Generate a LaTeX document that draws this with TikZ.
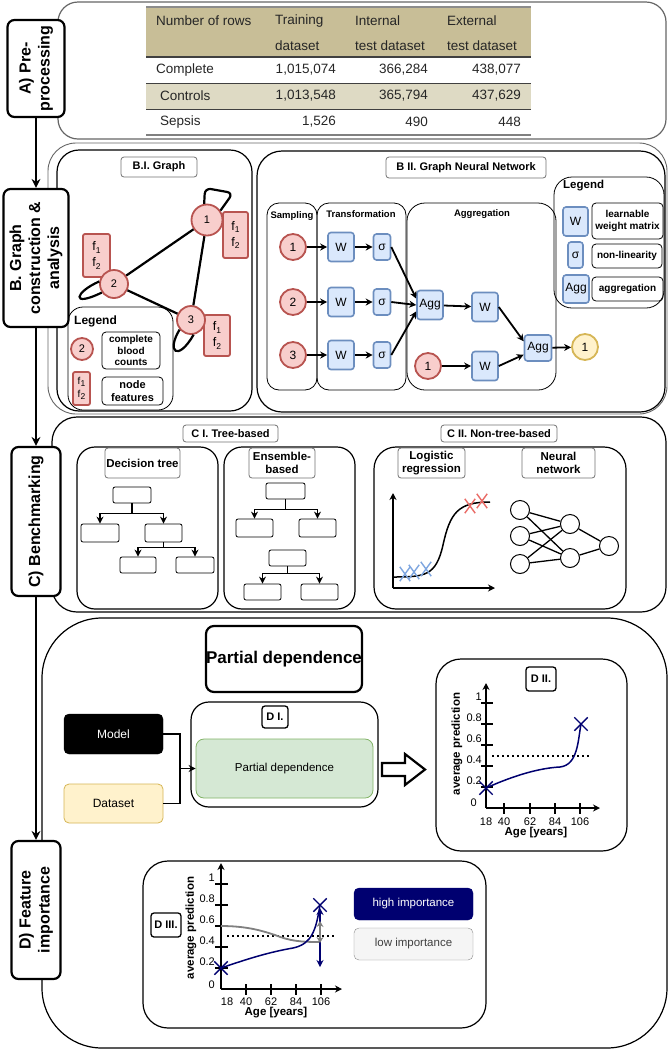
\documentclass[tikz,border=0pt]{standalone}
\usepackage{fontspec}
\setmainfont{Liberation Sans}
\usetikzlibrary{arrows.meta,shapes.misc,fit}
\definecolor{pinkF}{HTML}{F8CECC}
\definecolor{pinkD}{HTML}{B85450}
\definecolor{blueF}{HTML}{DAE8FC}
\definecolor{blueD}{HTML}{6C8EBF}
\definecolor{yelF}{HTML}{FFF2CC}
\definecolor{yelD}{HTML}{D6B656}
\definecolor{greF}{HTML}{D5E8D4}
\definecolor{greD}{HTML}{82B366}
\definecolor{navyc}{HTML}{000070}
\definecolor{tanH}{HTML}{C8BE97}
\definecolor{tanL}{HTML}{DEDAC4}
\definecolor{lblue}{HTML}{7EA6E0}
\definecolor{lred}{HTML}{EA6B66}
\newcommand\fsz[2]{\fontsize{#1}{#2}\selectfont}
\newcommand\fsub[1]{f\raisebox{-0.4ex}{\fsz{8.5}{9}#1}}
\begin{document}
\begin{tikzpicture}[x=1pt,y=-1pt,
  lab/.style={draw, line width=2.2pt, rounded corners=7pt, fill=white, rotate=90, align=center, font=\bfseries\fsz{16}{19}, inner sep=0pt},
  cont/.style={draw, line width=1.2pt, inner sep=0pt},
  ttl/.style={draw=black!55, line width=0.8pt, rounded corners=3pt, fill=white, font=\bfseries\fsz{11}{13}, inner sep=0pt, align=center},
  subl/.style={draw=black!55, line width=0.8pt, rounded corners=3pt, fill=white, font=\bfseries\fsz{11.5}{13}, inner sep=0pt, align=center},
  mini/.style={draw, line width=1.3pt, rounded corners=3pt, fill=white, font=\bfseries\fsz{11}{13}, inner sep=0pt},
  tt/.style={font=\fsz{13.5}{16}, inner sep=0pt, text=black!85},
  pk/.style={circle, draw=pinkD, fill=pinkF, line width=1.8pt, inner sep=0pt, font=\fsz{11}{13}},
  pkb/.style={draw=pinkD, fill=pinkF, line width=1.8pt, rounded corners=2pt, inner sep=0pt, align=center, font=\fsz{12.5}{16}},
  bl/.style={draw=blueD, fill=blueF, line width=1.6pt, rounded corners=3pt, inner sep=0pt, font=\fsz{12}{14}},
  lgt/.style={draw, line width=0.8pt, rounded corners=4pt, inner sep=0pt, align=center, font=\bfseries\fsz{10}{11.5}},
  lane/.style={draw, line width=0.8pt, rounded corners=12pt, inner sep=0pt},
  lanet/.style={font=\bfseries\fsz{9.5}{11}, inner sep=0pt},
  gl/.style={line width=2.2pt},
  garr/.style={line width=1.8pt, -{Stealth[length=7pt,width=7pt]}},
  sarr/.style={line width=1.8pt, -{Stealth[length=9pt,width=9pt]}},
  tbox/.style={draw, line width=0.8pt, rounded corners=2pt, inner sep=0pt},
  tarr/.style={line width=1.4pt, -{Stealth[length=7pt,width=7pt]}},
  axarr/.style={line width=1.5pt, -{Stealth[length=7pt,width=7pt]}},
  xm/.style={cross out, draw, line width=1.4pt, inner sep=0pt, minimum width=9pt, minimum height=13pt},
  nc/.style={circle, draw, line width=1pt, fill=white, inner sep=0pt, minimum size=19pt},
  tk/.style={line width=1.5pt},
  tl/.style={font=\fsz{11}{13}, inner sep=0pt},
  axl/.style={font=\bfseries\fsz{11.5}{13}, inner sep=0pt},
  dotl/.style={line width=1.5pt, dash pattern=on 1.5pt off 3.5pt},
]
\fill[white] (0,0) rectangle (671,1053);
\useasboundingbox (0,0) rectangle (671,1053);

%% ---------------- A ----------------
\node[cont, draw=black!60, rounded corners=20pt, fit={(58,2)(666,139)}] (abox) {};
\fill[tanH] (146,7) rectangle (531,57);
\fill[tanL] (146,83) rectangle (531,109);
\draw[black!45, line width=1.5pt] (146,7) -- (531,7);
\draw[black!75, line width=2pt] (146,57) -- (531,57);
\draw[black!75, line width=1pt] (146,83) -- (531,83);
\draw[black!75, line width=1pt] (146,109) -- (531,109);
\draw[black!50, line width=2pt] (146,135) -- (531,135);
\node[tt, anchor=west] (h0) at (156,21) {Number of rows};
\node[tt, anchor=west] (h1a) at (275,21) {Training};
\node[tt, anchor=west] (h1b) at (275,46) {dataset};
\node[tt, anchor=west] (h2a) at (355,21) {Internal};
\node[tt, anchor=west] (h2b) at (355,46) {test dataset};
\node[tt, anchor=west] (h3a) at (447,21) {External};
\node[tt, anchor=west] (h3b) at (447,46) {test dataset};
\node[tt, anchor=west] (r1) at (156,70) {Complete};
\node[tt, anchor=east] (r1a) at (336,70) {1,015,074};
\node[tt, anchor=east] (r1b) at (428,70) {366,284};
\node[tt, anchor=east] (r1c) at (521,70) {438,077};
\node[tt, anchor=west] (r2) at (160,96) {Controls};
\node[tt, anchor=east] (r2a) at (336,96) {1,013,548};
\node[tt, anchor=east] (r2b) at (428,96) {365,794};
\node[tt, anchor=east] (r2c) at (521,96) {437,629};
\node[tt, anchor=west] (r3) at (160,122) {Sepsis};
\node[tt, anchor=east] (r3a) at (336,122) {1,526};
\node[tt, anchor=east] (r3b) at (428,122) {490};
\node[tt, anchor=east] (r3c) at (521,122) {448};

%% ---------------- B ----------------
\node[cont, draw=black!60, line width=0.9pt, rounded corners=28pt, fit={(48,143)(667,414)}] (bout) {};
\node[cont, rounded corners=22pt, fit={(57,150)(252,411)}] (bI) {};
\node[cont, rounded corners=25pt, fit={(257,151)(665,412)}] (bII) {};

% B.I graph
\node[ttl, minimum width=76pt, minimum height=20pt] (bIt) at (159,167) {B.I. Graph};
\node[pkb, minimum width=25pt, minimum height=46pt] (f1) at (235.5,235) {\fsub{1}\\\fsub{2}};
\node[pkb, minimum width=27pt, minimum height=43pt] (f2) at (96.5,255.5) {\fsub{1}\\\fsub{2}};
\node[pkb, minimum width=26pt, minimum height=41pt] (f3) at (217,335.5) {\fsub{1}\\\fsub{2}};
\node[pk, minimum size=31pt] (n1) at (207,220) {1};
\node[pk, minimum size=28pt] (n2) at (114,284) {2};
\node[pk, minimum size=28pt] (n3) at (191,320) {3};
\draw[gl] (n1) -- (n2);
\draw[gl] (n2) -- (n3);
\draw[gl] (n1) -- (n3);
\draw[gl, rounded corners=6pt] (n1.100) -- (205,188) -- (233,193) -- (n1.35);
\draw[gl] (n2.170) .. controls (75,292) and (70,308) .. (n2.215);
\draw[gl] (n3.220) .. controls (166,352) and (178,362) .. (n3.280);
% legend B.I
\node[cont, line width=0.8pt, rounded corners=15pt, fit={(68,307)(173,410)}] (bleg) {};
\node[font=\bfseries\fsz{12}{14}, anchor=west, inner sep=0pt] (blegt) at (74,321) {Legend};
\node[pk, minimum size=22pt] (lc) at (82,349) {2};
\node[lgt, minimum width=58pt, minimum height=37pt] (lct) at (131,350.5) {complete\\blood\\counts};
\node[pkb, minimum width=17pt, minimum height=33pt, font=\fsz{10}{13}] (lf) at (81.5,388.5) {\fsub{1}\\\fsub{2}};
\node[lgt, minimum width=61pt, minimum height=28pt, font=\bfseries\fsz{11}{13}] (lft) at (132.5,391) {node\\features};

% B.II GNN
\node[ttl, minimum width=160pt, minimum height=21pt] (bIIt) at (466,167.5) {B II. Graph Neural Network};
\node[lane, fit={(267,203)(317,390)}] (laneS) {};
\node[lane, fit={(317,203)(406,390)}] (laneT) {};
\node[lane, rounded corners=18pt, fit={(407,203)(556,390)}] (laneA) {};
\node[lane, rounded corners=18pt, fit={(554,177)(664,308)}] (laneL) {};
\node[lanet] (lsT) at (292,216) {Sampling};
\node[lanet] (ltT) at (361,214) {Transformation};
\node[lanet] (laT) at (482,214) {Aggregation};
\node[font=\bfseries\fsz{11.5}{13}, anchor=west, inner sep=0pt] (llT) at (563,186) {Legend};

\node[pk, minimum size=26pt, font=\fsz{12}{14}] (s1) at (293,247) {1};
\node[pk, minimum size=26pt, font=\fsz{12}{14}] (s2) at (293,302) {2};
\node[pk, minimum size=26pt, font=\fsz{12}{14}] (s3) at (293,355) {3};
\node[bl, minimum width=26pt, minimum height=29pt] (w1) at (341,247) {W};
\node[bl, minimum width=26pt, minimum height=29pt] (w2) at (341,302) {W};
\node[bl, minimum width=26pt, minimum height=29pt] (w3) at (341,355) {W};
\node[bl, minimum width=17pt, minimum height=26pt] (g1) at (382,247) {σ};
\node[bl, minimum width=17pt, minimum height=26pt] (g2) at (382,302) {σ};
\node[bl, minimum width=17pt, minimum height=26pt] (g3) at (382,355) {σ};
\node[bl, minimum width=26pt, minimum height=29pt] (agg1) at (430,305) {Agg};
\node[bl, minimum width=26pt, minimum height=29pt] (w4) at (485,307) {W};
\node[pk, minimum size=26pt, font=\fsz{12}{14}] (b1) at (428,366) {1};
\node[bl, minimum width=26pt, minimum height=29pt] (w5) at (485,366) {W};
\node[bl, minimum width=27pt, minimum height=26pt] (agg2) at (538,348) {Agg};
\node[circle, draw=yelD, fill=yelF, line width=1.8pt, inner sep=0pt, minimum size=26pt, font=\fsz{12}{14}] (out) at (585,347) {1};
\draw[garr] (s1) -- (w1);
\draw[garr] (s2) -- (w2);
\draw[garr] (s3) -- (w3);
\draw[garr] (w1) -- (g1);
\draw[garr] (w2) -- (g2);
\draw[garr] (w3) -- (g3);
\draw[garr] (g1.east) -- (agg1.155);
\draw[garr] (g2.east) -- (agg1.west);
\draw[garr] (g3.east) -- (agg1.205);
\draw[garr] (agg1) -- (w4);
\draw[garr] (b1) -- (w5);
\draw[garr] (w4.east) -- (agg2.155);
\draw[garr] (w5.east) -- (agg2.205);
\draw[garr] (agg2) -- (out);
% legend B.II
\node[bl, minimum width=25pt, minimum height=29pt] (lw) at (575.5,221.5) {W};
\node[lgt, minimum width=71pt, minimum height=36pt] (lwt) at (627.5,221) {learnable\\weight matrix};
\node[bl, minimum width=15pt, minimum height=26pt] (lsg) at (575.5,255) {σ};
\node[lgt, minimum width=70pt, minimum height=24pt] (lst) at (627,256) {non-linearity};
\node[bl, minimum width=26pt, minimum height=28pt] (lag) at (576,289) {Agg};
\node[lgt, minimum width=71pt, minimum height=24pt] (lat) at (627.5,289) {aggregation};

%% ---------------- C ----------------
\node[cont, rounded corners=25pt, fit={(52,417)(666,612)}] (cbox) {};
\node[ttl, minimum width=95pt, minimum height=17pt] (cIt) at (230.5,433.5) {C I. Tree-based};
\node[ttl, minimum width=116pt, minimum height=17pt] (cIIt) at (499,433.5) {C II. Non-tree-based};
\node[cont, rounded corners=18pt, fit={(77,447)(218,609)}] (cdt) {};
\node[cont, rounded corners=18pt, fit={(224,447)(355,609)}] (cen) {};
\node[cont, rounded corners=22pt, fit={(374,447)(626,609)}] (cnt) {};
\node[subl, minimum width=75pt, minimum height=30pt] (cdtl) at (142.5,463) {Decision tree};
\node[subl, minimum width=66pt, minimum height=30pt] (cenl) at (282,463) {Ensemble-\\based};
\node[subl, minimum width=67pt, minimum height=30pt] (clrl) at (431.5,463) {Logistic\\regression};
\node[subl, minimum width=73pt, minimum height=30pt] (cnnl) at (558.5,463) {Neural\\network};
% decision tree
\node[tbox, minimum width=38pt, minimum height=16pt] (dt0) at (132,495) {};
\node[tbox, minimum width=38pt, minimum height=18pt] (dt1) at (100,533) {};
\node[tbox, minimum width=37pt, minimum height=18pt] (dt2) at (163.5,533) {};
\node[tbox, minimum width=36pt, minimum height=16pt] (dt3) at (138,565) {};
\node[tbox, minimum width=38pt, minimum height=16pt] (dt4) at (195,565) {};
\draw[tarr] (dt0.south) -- ++(0,10) -| (dt1.north);
\draw[tarr] (dt0.south) -- ++(0,10) -| (dt2.north);
\draw[tarr] (dt2.south) -- ++(0,5) -| (dt3.north);
\draw[tarr] (dt2.south) -- ++(0,5) -| (dt4.north);
% ensemble
\node[tbox, minimum width=39pt, minimum height=16pt] (en0) at (285.5,491) {};
\node[tbox, minimum width=37pt, minimum height=18pt] (en1) at (254.5,528) {};
\node[tbox, minimum width=37pt, minimum height=18pt] (en2) at (317.5,528) {};
\node[tbox, minimum width=37pt, minimum height=16pt] (en3) at (287.5,558) {};
\node[tbox, minimum width=37pt, minimum height=16pt] (en4) at (262.5,592) {};
\node[tbox, minimum width=37pt, minimum height=16pt] (en5) at (319.5,592) {};
\draw[tarr] (en0.south) -- ++(0,10) -| (en1.north);
\draw[tarr] (en0.south) -- ++(0,10) -| (en2.north);
\draw[tarr] (en3.south) -- ++(0,7) -| (en4.north);
\draw[tarr] (en3.south) -- ++(0,7) -| (en5.north);
% logistic regression
\coordinate (lro) at (393,588);
\coordinate (lry) at (393,493);
\coordinate (lrx) at (495,588);
\draw[axarr] (lro) -- (lry);
\draw[axarr] (lro) -- (lrx);
\draw[line width=1.5pt] (393,577) .. controls (425,577) and (436,576) .. (443,545) .. controls (450,513) and (458,502) .. (490,502);
\node[xm, draw=lblue] (bx1) at (405,574) {};
\node[xm, draw=lblue] (bx2) at (414,572) {};
\node[xm, draw=lblue] (bx3) at (426,569) {};
\node[xm, draw=lred] (rx1) at (470,506) {};
\node[xm, draw=lred] (rx2) at (482,501) {};
% neural network
\node[nc] (nn1) at (520,510) {};
\node[nc] (nn2) at (520,536) {};
\node[nc] (nn3) at (520,564) {};
\node[nc] (nn4) at (570,524) {};
\node[nc] (nn5) at (570,558) {};
\node[nc] (nn6) at (609,546) {};
\foreach \a in {nn1,nn2,nn3}{\foreach \b in {nn4,nn5}{\draw[line width=1.3pt] (\a) -- (\b);}}
\draw[line width=1.3pt] (nn4) -- (nn6);
\draw[line width=1.3pt] (nn5) -- (nn6);

%% ---------------- D ----------------
\node[cont, rounded corners=60pt, fit={(42,618)(667,1048)}] (dbox) {};
\node[draw, line width=2.2pt, rounded corners=8pt, minimum width=156pt, minimum height=66pt, inner sep=0pt, font=\bfseries\fsz{17}{20}] (pdt) at (284,659) {Partial dependence};
\node[draw, fill=black, rounded corners=5pt, minimum width=99pt, minimum height=40pt, inner sep=0pt, text=white, font=\fsz{12}{14}] (model) at (113.5,734) {Model};
\node[draw=yelD, fill=yelF, rounded corners=5pt, line width=0.8pt, minimum width=99pt, minimum height=39pt, inner sep=0pt, font=\fsz{12}{14}] (dataset) at (113.5,803.5) {Dataset};
\node[cont, rounded corners=18pt, fit={(191,702)(378,807)}] (dI) {};
\node[mini, minimum width=26pt, minimum height=22pt] (dIt) at (275,717) {D I.};
\node[draw=greD, fill=greF, rounded corners=8pt, line width=0.8pt, minimum width=177pt, minimum height=59pt, inner sep=0pt, font=\fsz{11.5}{14}] (green) at (284.5,768.5) {Partial dependence};
\coordinate (jn) at (180,768.5);
\draw[line width=1.5pt] (model.east) -| (jn);
\draw[line width=1.5pt] (dataset.east) -| (jn);
\draw[line width=1.5pt, -{Stealth[length=7pt,width=7pt]}] (jn) -- (green.west);
\draw[line width=2.2pt, line join=miter] (382,763) -- (405,763) -- (405,754) -- (425,769.5) -- (405,785) -- (405,776) -- (382,776) -- cycle;

% D II
\node[cont, rounded corners=25pt, fit={(436,659)(627,851)}] (dII) {};
\node[mini, minimum width=30pt, minimum height=24pt] (dIIt) at (541,679) {D II.};
\coordinate (d2o) at (486,808);
\coordinate (d2t) at (486,683);
\coordinate (d2r) at (600,808);
\draw[axarr] (d2o) -- (d2t);
\draw[axarr] (d2o) -- (d2r);
\foreach \v/\yy [count=\k] in {1/703,0.8/724,0.6/745,0.4/766,0.2/787}{
  \draw[tk] (481,\yy) -- (493,\yy);
  \node[tl, anchor=east] (d2y\k) at (482,\yy-6) {\v};
}
\node[tl, anchor=east] (d2y0) at (477,803) {0};
\foreach \xx in {504,530,555,580} {\draw[tk] (\xx,803) -- (\xx,814);}
\foreach \v/\xx [count=\k] in {18/486,40/504,62/530,84/555,106/580} {\node[tl] (d2x\k) at (\xx,822) {\v};}
\node[axl] (d2xl) at (536,833) {Age [years]};
\node[axl, rotate=90] (d2yl) at (457,744) {average prediction};
\draw[dotl] (492,756) -- (592,756);
\draw[navyc, line width=1.5pt] (486,788) .. controls (515,775) and (540,768) .. (560,767) .. controls (578,765) and (578,740) .. (581,724);
\node[xm, draw=navyc, minimum width=12pt, minimum height=12pt] (d2m1) at (486,788) {};
\node[xm, draw=navyc, minimum width=12pt, minimum height=12pt] (d2m2) at (581,724) {};

% D III
\node[cont, rounded corners=25pt, fit={(143,861)(486,1028)}] (dIII) {};
\node[mini, minimum width=30pt, minimum height=24pt] (dIIIt) at (166,925) {D III.};
\coordinate (d3o) at (221,989);
\coordinate (d3t) at (221,863);
\coordinate (d3r) at (342,989);
\draw[axarr] (d3o) -- (d3t);
\draw[axarr] (d3o) -- (d3r);
\foreach \v/\yy [count=\k] in {1/884,0.8/905,0.6/926,0.4/947,0.2/968}{
  \draw[tk] (215,\yy) -- (228,\yy);
  \node[tl, anchor=east] (d3y\k) at (215,\yy-6) {\v};
}
\node[tl, anchor=east] (d3y0) at (215,985) {0};
\foreach \xx in {246,271,296,321} {\draw[tk] (\xx,984) -- (\xx,995);}
\foreach \v/\xx [count=\k] in {18/227,40/246,62/271,84/296,106/321} {\node[tl] (d3x\k) at (\xx,1002) {\v};}
\node[axl] (d3xl) at (276,1013) {Age [years]};
\node[axl, rotate=90] (d3yl) at (191,928) {average prediction};
\draw[dotl] (227,936) -- (334,936);
\draw[black!50, line width=1.8pt] (221,926) .. controls (245,926) and (260,930) .. (275,935) .. controls (290,941) and (300,942) .. (320,942);
\draw[navyc, line width=1.5pt] (221,968) .. controls (250,958) and (270,952) .. (293,948) .. controls (312,944) and (316,930) .. (320,905);
\draw[navyc, line width=1.5pt, {Stealth[length=7pt,width=7pt]}-{Stealth[length=7pt,width=7pt]}] (320,908) -- (320,967);
\draw[black!50, line width=2pt, {Stealth[length=6pt,width=7pt]}-{Stealth[length=6pt,width=7pt]}] (320,921) -- (320,943);
\node[xm, draw=navyc, minimum width=12pt, minimum height=12pt] (d3m1) at (221,968) {};
\node[xm, draw=navyc, minimum width=12pt, minimum height=12pt] (d3m2) at (320,905) {};
\node[draw=navyc, fill=navyc, rounded corners=5pt, minimum width=119pt, minimum height=32pt, inner sep=0pt, text=white, font=\fsz{11.5}{13}] (hi) at (413.5,904) {high importance};
\node[draw=black!45, fill=black!4, rounded corners=5pt, minimum width=119pt, minimum height=32pt, inner sep=0pt, text=black!75, font=\fsz{11.5}{13}] (lowi) at (413.5,944) {low importance};

%% ---------------- side labels and spine ----------------
\node[lab, minimum width=97pt, minimum height=57pt] (alab) at (36,68.5) {A) Pre-\\processing};
\node[lab, minimum width=138pt, minimum height=65pt] (blab) at (36,258) {B. Graph\\construction \&\\analysis};
\node[lab, minimum width=149pt, minimum height=49pt] (clab) at (36,521.5) {C) Benchmarking};
\node[lab, minimum width=138pt, minimum height=49pt] (dlab) at (36,910) {D) Feature\\importance};
\draw[sarr] (alab.west) -- (blab.east);
\draw[sarr] (blab.west) -- (clab.east);
\draw[sarr] (clab.west) -- (dlab.east);
\end{tikzpicture}
\end{document}
